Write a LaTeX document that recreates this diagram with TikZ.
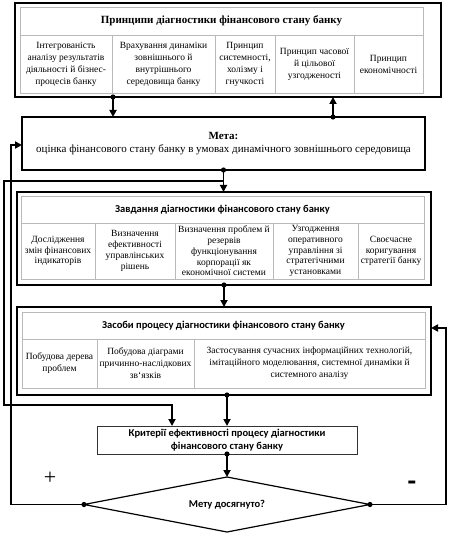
\documentclass[tikz,border=0pt]{standalone}
\usepackage{fontspec}
\setmainfont{Liberation Serif}
\newfontfamily\sansf{Carlito}
\usetikzlibrary{arrows.meta,shapes.geometric,calc}
\tikzset{
  outerbox/.style={draw, line width=2.6pt, anchor=north west, inner sep=0pt, outer sep=0pt},
  cellbox/.style={draw=gray!55, line width=0.7pt, anchor=north west, inner sep=1pt, outer sep=0pt, align=center, font=\fontsize{9.5}{12}\selectfont},
  zcell/.style={cellbox, font=\fontsize{9.5}{10.8}\selectfont},
  serifhead/.style={cellbox, font=\fontsize{11}{13}\selectfont\bfseries},
  sanshead/.style={cellbox, font=\fontsize{10.5}{13}\selectfont\sansf\bfseries},
  conn/.style={line width=1.8pt, -{Triangle[length=7pt,width=7pt]}},
  joint/.style={fill=black},
}
\begin{document}
\begin{tikzpicture}[x=1pt,y=-1pt]
\useasboundingbox (0,0) rectangle (452,537);

% ---------- Principles ----------
\node[outerbox, minimum width=426pt, minimum height=94pt] (princ) at (15,3) {};
\node[serifhead, minimum width=403pt, minimum height=28pt] (ptitle) at (20,7) {Принципи діагностики фінансового стану банку};
\node[cellbox, minimum width=92pt, minimum height=58pt] (p1) at (20,35) {Інтегрованість\\аналізу результатів\\діяльності й бізнес-\\процесів банку};
\node[cellbox, minimum width=103pt, minimum height=58pt] (p2) at (112,35) {Врахування динаміки\\зовнішнього й\\внутрішнього\\середовища банку};
\node[cellbox, minimum width=60pt, minimum height=58pt] (p3) at (215,35) {Принцип\\системності,\\холізму і\\гнучкості};
\node[cellbox, minimum width=79pt, minimum height=58pt] (p4) at (275,35) {Принцип часової\\й цільової\\узгодженості};
\node[cellbox, minimum width=69pt, minimum height=58pt] (p5) at (354,35) {Принцип\\економічності};

% ---------- Goal ----------
\node[outerbox, minimum width=403pt, minimum height=53pt, align=center, font=\fontsize{11}{13}\selectfont] (meta) at (22,117) {\textbf{Мета:}\\оцінка фінансового стану банку в умовах динамічного зовнішнього середовища};

% ---------- Tasks ----------
\node[outerbox, minimum width=414pt, minimum height=93pt] (zavd) at (17,192) {};
\node[sanshead, minimum width=403pt, minimum height=27pt] (ztitle) at (21,196) {Завдання діагностики фінансового стану банку};
\node[zcell, minimum width=74pt, minimum height=56pt] (z1) at (21,223) {Дослідження\\змін фінансових\\індикаторів};
\node[zcell, minimum width=80pt, minimum height=56pt] (z2) at (95,223) {Визначення\\ефективності\\управлінських\\рішень};
\node[zcell, minimum width=98pt, minimum height=56pt] (z3) at (175,223) {Визначення проблем й\\резервів\\функціонування\\корпорації як\\економічної системи};
\node[zcell, minimum width=85pt, minimum height=56pt] (z4) at (273,223) {Узгодження\\оперативного\\управління зі\\стратегічними\\установками};
\node[zcell, minimum width=66pt, minimum height=56pt] (z5) at (358,223) {Своєчасне\\коригування\\стратегії банку};

% ---------- Means ----------
\node[outerbox, minimum width=414pt, minimum height=88pt] (zas) at (17,307) {};
\node[sanshead, minimum width=403pt, minimum height=27pt] (stitle) at (22,312) {Засоби процесу діагностики фінансового стану банку};
\node[cellbox, minimum width=75pt, minimum height=49pt] (s1) at (22,339) {Побудова дерева\\проблем};
\node[cellbox, minimum width=97pt, minimum height=49pt] (s2) at (97,339) {Побудова діаграми\\причинно-наслідкових\\зв`язків};
\node[cellbox, minimum width=231pt, minimum height=49pt] (s3) at (194,339) {Застосування сучасних інформаційних технологій,\\імітаційного моделювання, системної динаміки й\\системного аналізу};

% ---------- Criteria ----------
\node[draw=black!80, line width=0.8pt, anchor=north west, inner sep=1pt, outer sep=0pt, minimum width=260pt, minimum height=28pt, align=center, font=\fontsize{10.5}{13.5}\selectfont\sansf\bfseries] (kryt) at (97,426) {Критерії ефективності процесу діагностики\\фінансового стану банку};

% ---------- Decision ----------
\node[draw, diamond, aspect=5.2, minimum width=286pt, minimum height=55pt, inner sep=0pt, outer sep=0pt, line width=1.2pt, font=\fontsize{10.5}{13}\selectfont\sansf\bfseries] (goal) at (227,504.5) {Мету досягнуто?};

\node[font=\fontsize{22}{22}\selectfont] (plus) at (50,478) {+};
\node[font=\fontsize{28}{28}\selectfont\sansf\bfseries] (minus) at (412,486) {-};

% ---------- Connectors ----------
\coordinate (c1) at ([xshift=98pt]princ.south west);
\draw[conn] (c1) -- (c1 |- meta.north);
\fill[joint] (c1) circle (2.6pt);

\coordinate (c2) at ([xshift=311pt]meta.north west);
\draw[conn] (c2) -- (c2 |- princ.south);
\fill[joint] (c2) circle (2.6pt);

\draw[conn] (meta.south) -- (meta.south |- zavd.north);
\fill[joint] (meta.south) circle (2.6pt);

\coordinate (j1) at ($(meta.south)!0.5!(meta.south |- zavd.north)$);
\coordinate (leftA) at (4,405);
\coordinate (k1) at ([xshift=75pt]kryt.north west);
\draw[conn] (j1) -| (leftA) -| (k1);

\coordinate (leftB) at (11,145);
\draw[conn] (goal.west) -| (leftB) -- (leftB -| meta.west);
\fill[joint] (goal.west) circle (2.6pt);

\draw[conn] (zavd.south) -- (zavd.south |- zas.north);
\fill[joint] (zavd.south) circle (2.6pt);

\coordinate (c7) at (zas.south -| kryt.north);
\draw[conn] (c7) -- (kryt.north);
\fill[joint] (c7) circle (2.6pt);

\draw[conn] (kryt.south) -- (goal.north);
\fill[joint] (kryt.south) circle (2.6pt);

\coordinate (rightA) at (446,328);
\draw[conn] (goal.east) -| (rightA) -- (rightA -| zas.east);
\fill[joint] (goal.east) circle (2.6pt);
\end{tikzpicture}
\end{document}
